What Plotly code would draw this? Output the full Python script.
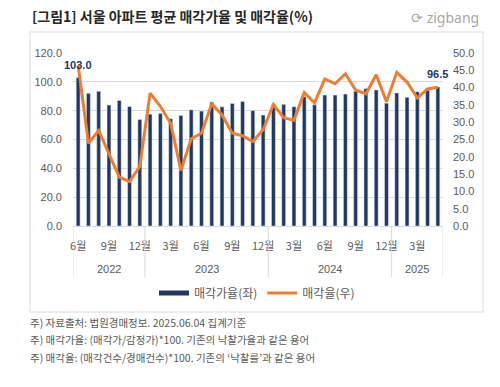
import plotly.graph_objects as go

# ---- data ----
years = [2022, 2023, 2024, 2025]
year_months = {
    2022: [6, 7, 8, 9, 10, 11, 12],
    2023: list(range(1, 13)),
    2024: list(range(1, 13)),
    2025: [1, 2, 3, 4, 5],
}
categories = [f"{y}-{m:02d}" for y in years for m in year_months[y]]
month_nums = [m for y in years for m in year_months[y]]

sale_price_rate = [103.0, 92.0, 93.4, 83.9, 87.1, 82.9, 73.9, 77.6, 78.1, 74.4, 76.7, 80.6,
                   79.7, 85.9, 82.7, 85.0, 86.4, 80.1, 77.0, 84.0, 84.4, 82.8, 89.6, 84.1,
                   90.8, 90.8, 91.5, 93.4, 95.3, 94.4, 85.2, 92.3, 89.3, 93.2, 94.1, 96.5]
sale_rate = [46.5, 23.9, 27.6, 21.0, 14.1, 12.8, 17.2, 38.4, 34.6, 29.7, 16.0, 25.2,
             26.8, 35.3, 32.1, 26.8, 26.1, 24.4, 27.8, 35.1, 31.3, 30.6, 38.6, 35.6,
             42.5, 41.1, 44.0, 39.3, 38.2, 43.7, 35.9, 44.4, 41.6, 37.0, 39.6, 40.1]

tick_months = [c for c, m in zip(categories, month_nums) if m % 3 == 0]
tick_text = [f"{m}월" for m in month_nums if m % 3 == 0]

title = "[그림1] 서울 아파트 평균 매각가율 및 매각율(%)"
notes = [
    "주) 자료출처: 법원경매정보. 2025.06.04 집계기준",
    "주) 매각가율: (매각가/감정가)*100. 기존의 낙찰가율과 같은 용어",
    "주) 매각율: (매각건수/경매건수)*100. 기존의 ‘낙찰률’과 같은 용어",
]

# ---- layout geometry ----
W, H = 500, 387
L, R, T, B = 73, 57, 53, 161
PW, PH = W - L - R, H - T - B


def px_x(x):
    return (x - L) / PW


def px_y(y):
    return (H - B - y) / PH


NAVY = "#1F3864"
ORANGE = "#ED7D31"
GREY = "#595959"
FONT = "Liberation Sans, Noto Sans CJK KR, sans-serif"
KFONT = "Noto Sans CJK KR, Liberation Sans, sans-serif"

fig = go.Figure()
fig.add_trace(go.Bar(
    x=categories, y=sale_price_rate, marker_color=NAVY, showlegend=False,
    name="매각가율(좌)",
))
fig.add_trace(go.Scatter(
    x=categories, y=sale_rate, yaxis="y2", mode="lines",
    line=dict(color=ORANGE, width=3), showlegend=False, name="매각율(우)",
))
# legend proxies
fig.add_trace(go.Scatter(x=[None], y=[None], mode="lines", line=dict(color=NAVY, width=5),
                         name="매각가율(좌)"))
fig.add_trace(go.Scatter(x=[None], y=[None], mode="lines", line=dict(color=ORANGE, width=3),
                         name="매각율(우)", yaxis="y2"))

shapes = []
annotations = []

# data labels for first and last bars
for idx in (0, len(categories) - 1):
    annotations.append(dict(x=categories[idx], y=sale_price_rate[idx], xref="x", yref="y",
                            text=f"<b>{sale_price_rate[idx]:.1f}</b>", showarrow=False,
                            yanchor="bottom", yshift=5,
                            font=dict(family=FONT, size=11, color=NAVY)))

# year dividers & labels
start = -0.5
div_bottom = px_y(277)
shapes.append(dict(type="line", xref="x", yref="paper", x0=start, x1=start, y0=0, y1=div_bottom,
                   line=dict(color="#d9d9d9", width=1)))
for y in years:
    n = len(year_months[y])
    end = start + n
    shapes.append(dict(type="line", xref="x", yref="paper", x0=end, x1=end, y0=0, y1=div_bottom,
                       line=dict(color="#d9d9d9", width=1)))
    annotations.append(dict(x=(start + end) / 2, y=px_y(269), xref="x", yref="paper",
                            text=str(y), showarrow=False, yanchor="middle",
                            font=dict(family=FONT, size=11, color=GREY)))
    start = end

# outer box
shapes.append(dict(type="rect", xref="paper", yref="paper", x0=px_x(30), x1=px_x(483),
                   y0=px_y(312), y1=px_y(32), line=dict(color="#d9d9d9", width=1),
                   fillcolor="rgba(0,0,0,0)", layer="below"))

annotations.append(dict(x=px_x(30), y=px_y(16), xref="paper", yref="paper", text=f"<b>{title}</b>",
                        showarrow=False, xanchor="left", yanchor="middle",
                        font=dict(family=KFONT, size=14, color="#262626")))
annotations.append(dict(x=px_x(481), y=px_y(17), xref="paper", yref="paper", text="⟳ zigbang",
                        showarrow=False, xanchor="right", yanchor="middle",
                        font=dict(family="Noto Sans, sans-serif", size=14, color="#a6a6a6")))
for i, t in enumerate(notes):
    annotations.append(dict(x=px_x(28), y=px_y(322 + 17.5 * i), xref="paper", yref="paper",
                            text=t, showarrow=False, xanchor="left", yanchor="middle",
                            font=dict(family=KFONT, size=10.5, color=GREY)))

fig.update_layout(
    width=W, height=H, margin=dict(l=L, r=R, t=T, b=B),
    paper_bgcolor="white", plot_bgcolor="white",
    bargap=0.62,
    font=dict(family=FONT, size=11, color=GREY),
    xaxis=dict(type="category", categoryorder="array", categoryarray=categories,
               tickvals=tick_months, ticktext=tick_text, ticks="", showgrid=False,
               showline=True, linecolor="#d9d9d9", linewidth=1,
               tickfont=dict(family=KFONT, size=11, color=GREY), ticklabelstandoff=10,
               range=[-0.5, len(categories) - 0.5]),
    yaxis=dict(range=[0, 120], dtick=20, tickformat=".1f", showgrid=True, gridcolor="#d9d9d9",
               gridwidth=1, zeroline=False, ticks="", ticklabelstandoff=10,
               tickfont=dict(family=FONT, size=11, color=GREY)),
    yaxis2=dict(range=[0, 50], dtick=5, tickformat=".1f", overlaying="y", side="right",
                showgrid=False, zeroline=False, ticks="", ticklabelstandoff=9,
                tickfont=dict(family=FONT, size=11, color=GREY)),
    legend=dict(orientation="h", x=px_x(257), y=px_y(293), xanchor="center", yanchor="middle",
                font=dict(family=KFONT, size=12, color=GREY), itemwidth=30,
                bgcolor="rgba(0,0,0,0)"),
    shapes=shapes, annotations=annotations,
)

fig.write_html("out.html", config={"displayModeBar": False},
               post_script="document.body.style.margin='0';")
